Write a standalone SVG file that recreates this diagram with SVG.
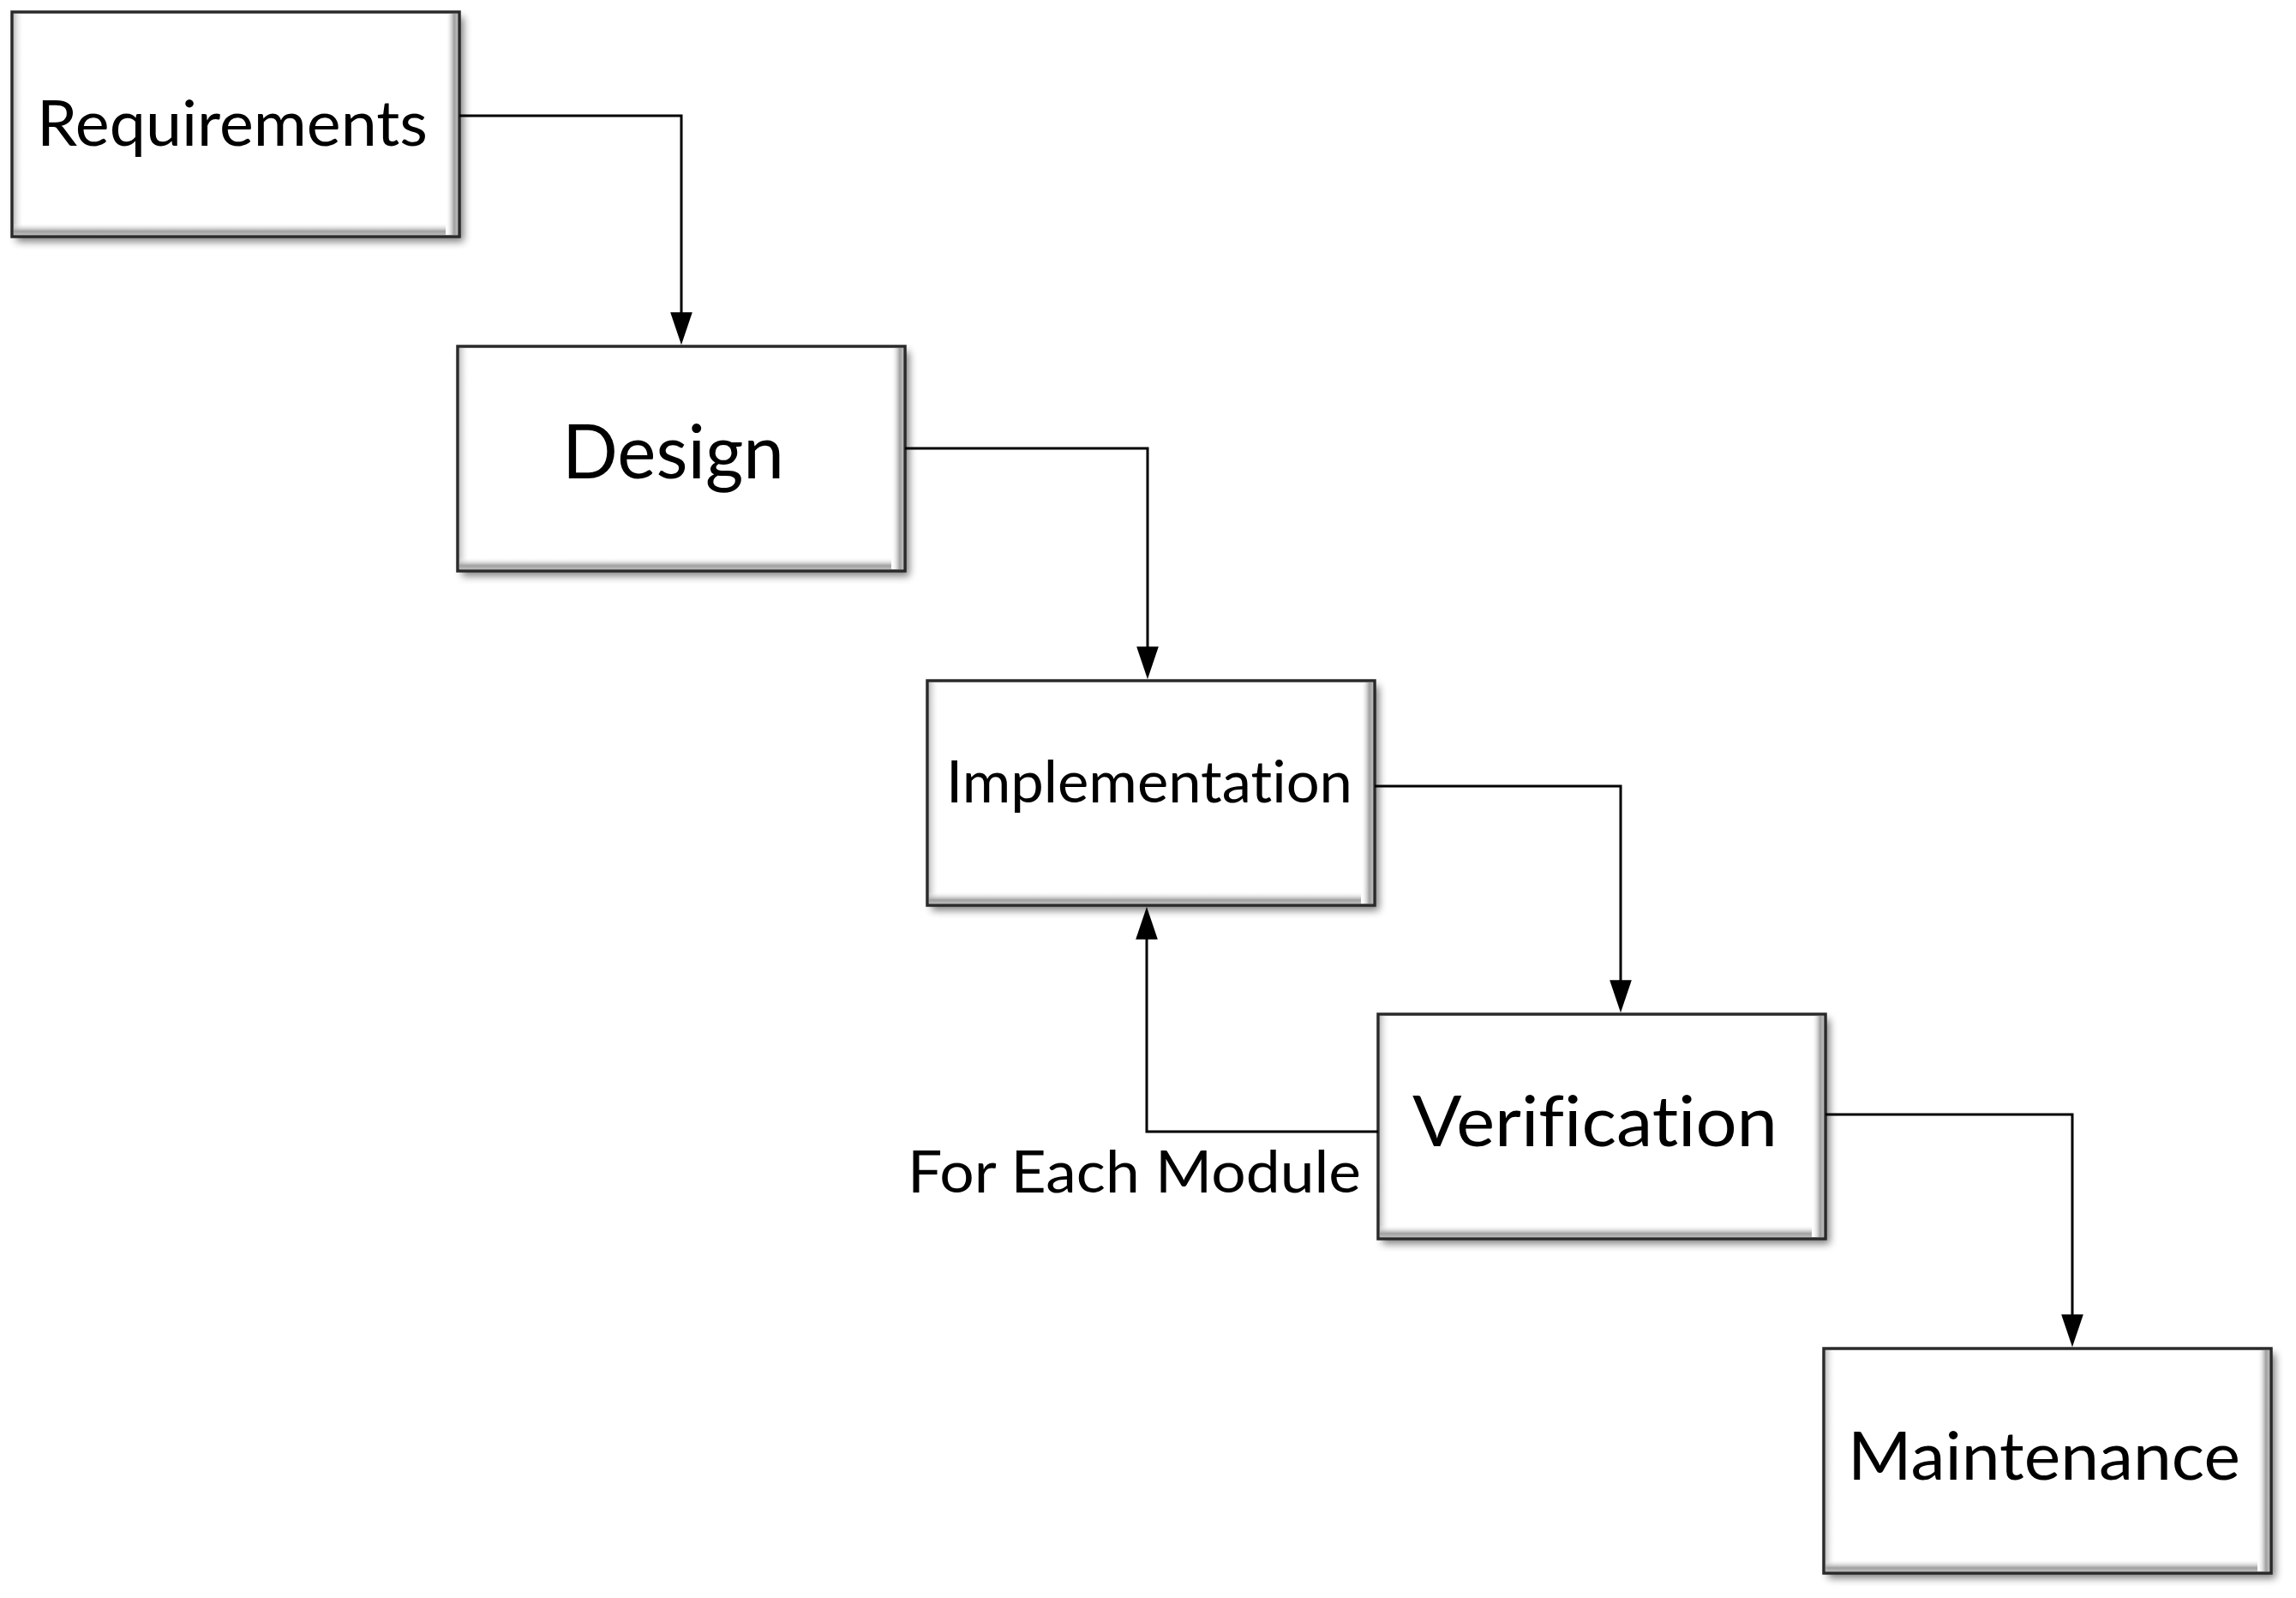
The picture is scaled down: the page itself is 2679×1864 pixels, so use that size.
<svg xmlns="http://www.w3.org/2000/svg" width="2679" height="1864" viewBox="0 0 2679 1864">
<defs>
<filter id="blur" x="-10%" y="-10%" width="120%" height="120%">
<feGaussianBlur stdDeviation="5"/>
</filter>
<linearGradient id="gR" x1="0" y1="0" x2="1" y2="0">
<stop offset="0" stop-color="#ffffff" stop-opacity="0"/>
<stop offset="0.7" stop-color="#a0a0a0"/>
<stop offset="1" stop-color="#bcbcbc"/>
</linearGradient>
<linearGradient id="gB" x1="0" y1="0" x2="0" y2="1">
<stop offset="0" stop-color="#ffffff" stop-opacity="0"/>
<stop offset="0.7" stop-color="#a0a0a0"/>
<stop offset="1" stop-color="#bcbcbc"/>
</linearGradient>
<linearGradient id="gL" x1="0" y1="0" x2="1" y2="0">
<stop offset="0" stop-color="#c2c2c2"/>
<stop offset="1" stop-color="#ffffff" stop-opacity="0"/>
</linearGradient>
<marker id="arrow" markerUnits="userSpaceOnUse" markerWidth="38" markerHeight="26" viewBox="0 0 37 25" refX="29" refY="12.5" orient="auto">
<path d="M0,0 L37,12.5 L0,25 Z" fill="#000"/>
</marker>
</defs>
<style>
.shadow{fill:#000;opacity:0.5;filter:url(#blur)}
.face{fill:#fff}
.bR{fill:url(#gR)}
.bB{fill:url(#gB)}
.bL{fill:url(#gL)}
.border{fill:none;stroke:#2a2a2a;stroke-width:3.5}
.label{font-family:Lato,"Liberation Sans",sans-serif;fill:#000;font-variant-ligatures:none;font-feature-settings:"liga" 0,"clig" 0}
.conn{fill:none;stroke:#000;stroke-width:3;marker-end:url(#arrow)}
</style>
<rect width="2679" height="1864" fill="#fff"/>

<g id="requirements">
<rect class="shadow" x="19" y="20" width="522" height="262"/>
<rect class="face" x="14" y="14" width="522" height="262"/>
<rect class="bL" x="16" y="16" width="12" height="258"/>
<rect class="bR" x="520" y="16" width="14" height="258"/>
<rect class="bB" x="16" y="260" width="504" height="14"/>
<rect class="border" x="14" y="14" width="522" height="262"/>
<text class="label" x="43" y="170" font-size="74" textLength="456" lengthAdjust="spacingAndGlyphs">Requirements</text>
</g>

<g id="design">
<rect class="shadow" x="539" y="410" width="522" height="262"/>
<rect class="face" x="534" y="404" width="522" height="262"/>
<rect class="bL" x="536" y="406" width="12" height="258"/>
<rect class="bR" x="1040" y="406" width="14" height="258"/>
<rect class="bB" x="536" y="650" width="504" height="14"/>
<rect class="border" x="534" y="404" width="522" height="262"/>
<text class="label" x="656" y="558" font-size="88" textLength="259" lengthAdjust="spacingAndGlyphs">Design</text>
</g>

<g id="implementation">
<rect class="shadow" x="1087" y="800" width="522" height="262"/>
<rect class="face" x="1082" y="794" width="522" height="262"/>
<rect class="bL" x="1084" y="796" width="12" height="258"/>
<rect class="bR" x="1588" y="796" width="14" height="258"/>
<rect class="bB" x="1084" y="1040" width="504" height="14"/>
<rect class="border" x="1082" y="794" width="522" height="262"/>
<text class="label" x="1104" y="936" font-size="67" textLength="474" lengthAdjust="spacingAndGlyphs">Implementation</text>
</g>

<g id="verification">
<rect class="shadow" x="1613" y="1189" width="522" height="262"/>
<rect class="face" x="1608" y="1183" width="522" height="262"/>
<rect class="bL" x="1610" y="1185" width="12" height="258"/>
<rect class="bR" x="2114" y="1185" width="14" height="258"/>
<rect class="bB" x="1610" y="1429" width="504" height="14"/>
<rect class="border" x="1608" y="1183" width="522" height="262"/>
<text class="label" x="1648" y="1337" font-size="81" textLength="426" lengthAdjust="spacingAndGlyphs">Verification</text>
</g>

<g id="maintenance">
<rect class="shadow" x="2133" y="1579" width="522" height="262"/>
<rect class="face" x="2128" y="1573" width="522" height="262"/>
<rect class="bL" x="2130" y="1575" width="12" height="258"/>
<rect class="bR" x="2634" y="1575" width="14" height="258"/>
<rect class="bB" x="2130" y="1819" width="504" height="14"/>
<rect class="border" x="2128" y="1573" width="522" height="262"/>
<text class="label" x="2156" y="1726" font-size="77" textLength="458" lengthAdjust="spacingAndGlyphs">Maintenance</text>
</g>

<g id="connectors">
<path class="conn" d="M536,135 H795 V394"/>
<path class="conn" d="M1056,523 H1339 V784"/>
<path class="conn" d="M1604,917 H1891 V1173"/>
<path class="conn" d="M2130,1300 H2418 V1563"/>
<path class="conn" d="M1608,1320 H1338 V1066"/>
</g>

<g id="label-for-each-module">
<text class="label" x="1059" y="1391" font-size="67" textLength="529" lengthAdjust="spacingAndGlyphs">For Each Module</text>
</g>
</svg>
